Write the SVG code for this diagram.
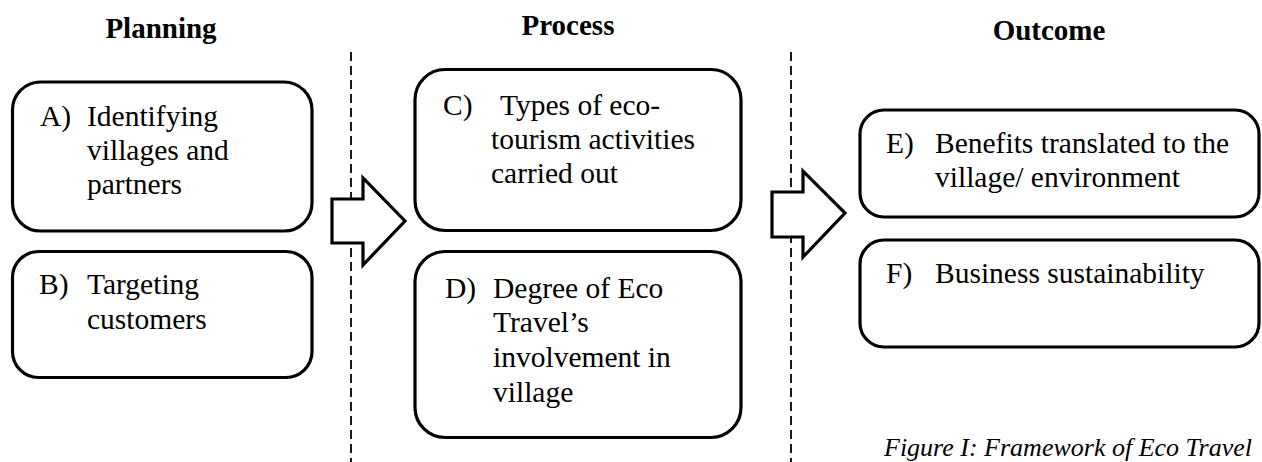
<svg xmlns="http://www.w3.org/2000/svg" width="1262" height="462" viewBox="0 0 1262 462">
<style>
.box{fill:#fff;stroke:#000;stroke-width:3.2}
.arr{fill:#fff;stroke:#000;stroke-width:3.2;stroke-linejoin:miter}
.div{stroke:#000;stroke-width:1.8;stroke-dasharray:9 5;fill:none}
.t{font-family:"Liberation Serif","Times New Roman",serif;font-size:29.5px;fill:#000}
.h{font-family:"Liberation Serif","Times New Roman",serif;font-size:29px;font-weight:bold;fill:#000;text-anchor:middle}
.cap{font-family:"Liberation Serif","Times New Roman",serif;font-size:26px;font-style:italic;fill:#000}
</style>
<rect width="1262" height="462" fill="#fff"/>
<g id="headings">
<text class="h" x="161" y="38">Planning</text>
<text class="h" x="568" y="35">Process</text>
<text class="h" x="1049" y="40">Outcome</text>
</g>
<g id="dividers">
<line class="div" x1="351" y1="52" x2="351" y2="462"/>
<line class="div" x1="791" y1="52" x2="791" y2="462"/>
</g>
<g id="nodeA">
<rect class="box" x="12.5" y="82" width="299.5" height="149" rx="28"/>
<text class="t"><tspan x="40" y="126">A)</tspan><tspan x="87" y="126">Identifying</tspan><tspan x="87" y="160">villages and</tspan><tspan x="87" y="194">partners</tspan></text>
</g>
<g id="nodeB">
<rect class="box" x="12.5" y="251.5" width="299.5" height="126" rx="26"/>
<text class="t"><tspan x="39" y="294">B)</tspan><tspan x="87" y="294">Targeting</tspan><tspan x="87" y="329">customers</tspan></text>
</g>
<g id="nodeC">
<rect class="box" x="415" y="69.5" width="326" height="161" rx="30"/>
<text class="t"><tspan x="443" y="115">C)</tspan><tspan x="500" y="115">Types of eco-</tspan><tspan x="491" y="149">tourism activities</tspan><tspan x="491" y="183">carried out</tspan></text>
</g>
<g id="nodeD">
<rect class="box" x="415" y="251.5" width="326" height="186" rx="30"/>
<text class="t"><tspan x="445" y="298">D)</tspan><tspan x="493" y="298">Degree of Eco</tspan><tspan x="493" y="332">Travel’s</tspan><tspan x="493" y="367">involvement in</tspan><tspan x="493" y="402">village</tspan></text>
</g>
<g id="nodeE">
<rect class="box" x="860" y="110" width="399" height="107" rx="24"/>
<text class="t"><tspan x="886" y="153">E)</tspan><tspan x="935" y="153">Benefits translated to the</tspan><tspan x="935" y="187">village/ environment</tspan></text>
</g>
<g id="nodeF">
<rect class="box" x="860" y="240" width="399" height="107" rx="24"/>
<text class="t"><tspan x="886" y="283">F)</tspan><tspan x="935" y="283">Business sustainability</tspan></text>
</g>
<g id="connectors">
<polygon class="arr" points="332,199 363,199 363,178 405,221 363,265 363,243 332,243"/>
<polygon class="arr" points="772,192 803,192 803,171 845,213 803,257 803,237 772,237"/>
</g>
<g id="caption">
<text class="cap" x="884" y="456">Figure I: Framework of Eco Travel</text>
</g>
</svg>
